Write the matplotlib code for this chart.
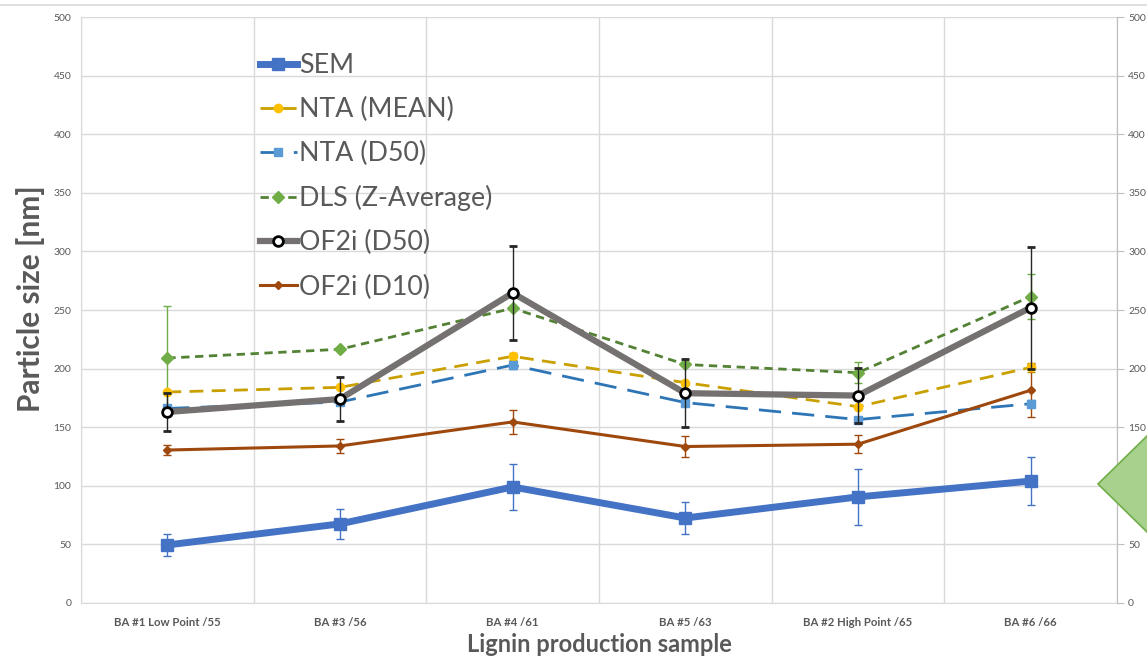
import matplotlib.pyplot as plt
import numpy as np
from matplotlib.patches import Polygon
from matplotlib.lines import Line2D

samples = ['BA #1 Low Point /55', 'BA #3 /56', 'BA #4 /61', 'BA #5 /63',
           'BA #2 High Point /65', 'BA #6 /66']

sem = [49.5, 67.5, 99, 72.5, 90.5, 104]
sem_err = [9, 13, 19.5, 14, 24, 20.5]
nta_mean = [180, 184, 210.5, 188, 167.5, 201]
nta_mean_err = [0, 0, 3, 0, 0, 4]
nta_d50 = [166, 171.5, 203, 171, 156.5, 170]
nta_d50_err = [0, 0, 3, 0, 0, 3]
dls = [209, 216.5, 251.5, 203.5, 196.5, 261.5]
dls_err = [44, 0, 0, 0, 9, 19]
of2i_d50 = [163, 174, 264.5, 179, 177, 252]
of2i_d50_err = [16.5, 18.5, 40.5, 29, 23.5, 52]
of2i_d10 = [130.5, 134, 154.5, 133.5, 135.5, 181.5]
of2i_d10_err = [4.5, 6, 10, 9, 7.5, 22.5]

plt.rcParams['font.family'] = ['Lato', 'DejaVu Sans']

fig = plt.figure(figsize=(11.47, 6.6), dpi=100)
ax = fig.add_axes([0.0706, 0.0864, 0.9032, 0.8878])
x = np.arange(len(samples))

# error bars first, lines on top
def series(y, err, ecolor, **kw):
    ax.errorbar(x, y, yerr=err, ecolor=ecolor, elinewidth=1, capsize=3,
                capthick=1, **kw)

series(sem, sem_err, '#4472C4', color='#4472C4', lw=5, marker='s', ms=8,
       mfc='#4472C4', mec='#4472C4', label='SEM', zorder=3)
series(nta_mean, nta_mean_err, '#BF9000', color='#C9A000', lw=2, ls=(0, (5, 3)),
       marker='o', ms=6, mfc='#FFC000', mec='#FFC000', label='NTA (MEAN)', zorder=4)
series(nta_d50, nta_d50_err, '#2E75B6', color='#2E75B6', lw=2, ls=(0, (8, 4)),
       marker='s', ms=6, mfc='#5B9BD5', mec='#5B9BD5', label='NTA (D50)', zorder=4)
series(dls, dls_err, '#70AD47', color='#548235', lw=2, ls=(0, (3, 2)),
       marker='D', ms=6, mfc='#70AD47', mec='#70AD47', label='DLS (Z-Average)', zorder=4)
series(of2i_d50, of2i_d50_err, '#262626', color='#767171', lw=4.5, marker='o', ms=7,
       mfc='white', mec='black', mew=2, label='OF2i (D50)', zorder=5)
series(of2i_d10, of2i_d10_err, '#9E480E', color='#9E480E', lw=2.2, marker='D', ms=4,
       mfc='#9E480E', mec='#9E480E', label='OF2i (D10)', zorder=4)

ax.set_xlim(-0.5, len(samples) - 0.5)
ax.set_ylim(0, 500)
ax.set_yticks(np.arange(0, 501, 50))
ax.set_xticks(x)
ax.set_xticklabels(samples, fontsize=8.2, fontweight='bold', color='#595959')
ax.set_xticks(np.arange(-0.5, len(samples)), minor=True)
ax.tick_params(axis='x', which='both', length=0, pad=10)
ax.tick_params(axis='y', labelsize=7.5, labelcolor='#595959', length=0, pad=7)
ax.grid(True, axis='y', color='#D9D9D9', lw=1)
ax.grid(True, axis='x', which='minor', color='#D9D9D9', lw=1)
ax.set_axisbelow(True)
ax.spines['top'].set_visible(False)
for side in ['left', 'bottom', 'right']:
    ax.spines[side].set_color('#D9D9D9')

ax2 = ax.twinx()
ax2.set_ylim(0, 500)
ax2.set_yticks(np.arange(0, 501, 50))
ax2.tick_params(axis='y', labelsize=7.5, labelcolor='#595959', color='#BFBFBF',
                length=5, pad=3)
ax2.spines['right'].set_color('#BFBFBF')
for side in ['top', 'left', 'bottom']:
    ax2.spines[side].set_visible(False)

ax.set_ylabel('Particle size [nm]', fontsize=21.5, fontweight='bold', color='#595959',
              labelpad=6)
ax.yaxis.label.set_y(0.52)
ax.set_xlabel('Lignin production sample', fontsize=17, fontweight='bold',
              color='#595959', labelpad=4)

handles, labels = ax.get_legend_handles_labels()
handles = [h[0] if isinstance(h, tuple) else h for h in handles]
leg = ax.legend(handles, labels, loc='upper left', bbox_to_anchor=(0.162, 0.957),
                frameon=False, fontsize=19.3, handlelength=1.4, handletextpad=0.08,
                labelspacing=0.71, borderaxespad=0)
for t in leg.get_texts():
    t.set_color('#595959')

# thin rule across the top and the clipped diamond shape on the right edge
fig.add_artist(Line2D([0, 1], [0.993, 0.993], color='#D9D9D9', lw=1.2,
                      transform=fig.transFigure))
W, H = 1147, 660
diamond = [(1098 / W, 1 - 484 / H), (1147 / W, 1 - 436 / H),
           (1196 / W, 1 - 484 / H), (1147 / W, 1 - 532 / H)]
fig.add_artist(Polygon(diamond, closed=True, transform=fig.transFigure,
                       facecolor='#A9D18E', edgecolor='#70AD47', lw=1.2))

fig.savefig('out.png', dpi=100)
